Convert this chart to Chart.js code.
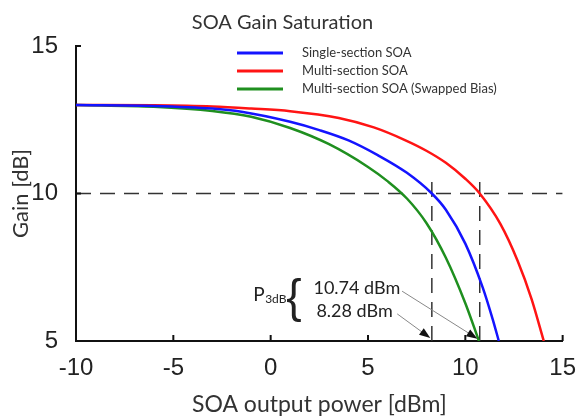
<!DOCTYPE html>
<html lang="en">
<head>
    <meta charset="UTF-8">
    <title>SOA Gain Saturation</title>
    <script src="https://cdn.jsdelivr.net/npm/chart.js@4.4.1/dist/chart.umd.min.js"></script>
    <style>
        body { margin: 0; background: #fff; }
        .box { width: 581px; height: 418px; position: relative; }
    </style>
</head>
<body>
    <div class="box"><canvas id="gainChart"></canvas></div>

    <script>
        // output power [dBm] and gain [dB]
        const powerSingle = [-10, -6, -3, -1.5, 1, 2.5, 4, 5.5, 7, 8.28, 9, 10, 10.9, 11.4, 11.72];
        const gainSingle = [13.0, 12.97, 12.88, 12.77, 12.43, 12.15, 11.8, 11.3, 10.7, 10.0, 9.45, 8.3, 6.8, 5.75, 5.0];

        const powerMulti = [-10, -6, -3, -1, 1, 3.5, 5.3, 6.87, 8, 9, 10, 10.74, 11.8, 12.68, 13.4, 14.03];
        const gainMulti = [13.0, 12.99, 12.95, 12.88, 12.79, 12.56, 12.24, 11.82, 11.45, 11.04, 10.5, 10.0, 8.97, 7.73, 6.43, 5.0];

        const powerSwapped = [-10, -6, -3, -1, 1, 3, 5, 6, 7, 8, 9, 10, 10.7];
        const gainSwapped = [13.0, 12.94, 12.8, 12.6, 12.22, 11.67, 10.9, 10.42, 9.83, 9.0, 7.82, 6.28, 5.0];

        const seriesNames = ["Single-section SOA", "Multi-section SOA", "Multi-section SOA (Swapped Bias)"];
        const seriesColors = ["#1414ff", "#ff1414", "#1f8f1f"];

        const xTicks = [-10, -5, 0, 5, 10, 15];
        const yTicks = [5, 10, 15];

        const refGain = 10;            // 3 dB below small-signal gain
        const p3dbPower = [8.28, 10.74];
        const p3dbTop = 10.65;         // where the vertical dashed lines stop

        function toPoints(xs, ys) {
            return xs.map((x, i) => ({ x: x, y: ys[i] }));
        }

        const curveStyle = { fill: false, pointRadius: 0, borderWidth: 2.5, cubicInterpolationMode: "monotone" };
        const dashStyle = { fill: false, pointRadius: 0, borderWidth: 1.5, borderColor: "#333", borderDash: [15, 9], tension: 0 };

        const datasets = [
            Object.assign({ label: seriesNames[0], data: toPoints(powerSingle, gainSingle), borderColor: seriesColors[0] }, curveStyle),
            Object.assign({ label: seriesNames[1], data: toPoints(powerMulti, gainMulti), borderColor: seriesColors[1] }, curveStyle),
            Object.assign({ label: seriesNames[2], data: toPoints(powerSwapped, gainSwapped), borderColor: seriesColors[2] }, curveStyle),
            Object.assign({ data: [{ x: xTicks[0], y: refGain }, { x: xTicks[xTicks.length - 1], y: refGain }] }, dashStyle)
        ];
        p3dbPower.forEach(p => {
            datasets.push(Object.assign({ data: [{ x: p, y: yTicks[0] }, { x: p, y: p3dbTop }] }, dashStyle));
        });

        // inward tick marks, legend and the P3dB note
        const extrasPlugin = {
            id: "extras",
            afterDatasetsDraw(chart) {
                const ctx = chart.ctx;
                const area = chart.chartArea;
                const xs = chart.scales.x, ys = chart.scales.y;
                ctx.save();

                // ticks
                ctx.strokeStyle = "#111";
                ctx.lineWidth = 2;
                xTicks.slice(1).forEach(v => {
                    const px = xs.getPixelForValue(v);
                    ctx.beginPath(); ctx.moveTo(px, area.bottom); ctx.lineTo(px, area.bottom - 6); ctx.stroke();
                });
                yTicks.slice(1).forEach(v => {
                    const py = ys.getPixelForValue(v);
                    ctx.beginPath(); ctx.moveTo(area.left, py); ctx.lineTo(area.left + 5, py); ctx.stroke();
                });

                // legend
                ctx.font = "13px Lato";
                ctx.textBaseline = "middle";
                ctx.textAlign = "left";
                seriesNames.forEach((name, i) => {
                    const y = area.top + 7 + i * 18;
                    const x0 = area.left + 161;
                    ctx.strokeStyle = seriesColors[i];
                    ctx.lineWidth = 3;
                    ctx.beginPath(); ctx.moveTo(x0, y); ctx.lineTo(x0 + 46, y); ctx.stroke();
                    ctx.fillStyle = "#333";
                    ctx.fillText(name, x0 + 65, y);
                });

                // P3dB annotation
                ctx.fillStyle = "#222";
                ctx.font = "19px Lato";
                ctx.fillText("P", xs.getPixelForValue(-0.9), ys.getPixelForValue(6.55));
                ctx.font = "12px Lato";
                ctx.fillText("3dB", xs.getPixelForValue(-0.9) + 12, ys.getPixelForValue(6.55) + 4);
                ctx.font = "46px 'Liberation Sans'";
                ctx.textAlign = "center";
                ctx.fillText("{", xs.getPixelForValue(1.2), ys.getPixelForValue(6.4));
                ctx.textAlign = "left";
                ctx.font = "18px Lato";
                ctx.fillText(p3dbPower[1].toFixed(2) + " dBm", xs.getPixelForValue(2.2), ys.getPixelForValue(6.8));
                ctx.fillText(p3dbPower[0].toFixed(2) + " dBm", xs.getPixelForValue(2.35), ys.getPixelForValue(6.02));

                const arrows = [
                    [6.75, 6.69, p3dbPower[1] - 0.12, 5.08],
                    [6.5, 5.92, p3dbPower[0] - 0.08, 5.1]
                ];
                arrows.forEach(a => {
                    const x1 = xs.getPixelForValue(a[0]), y1 = ys.getPixelForValue(a[1]);
                    const x2 = xs.getPixelForValue(a[2]), y2 = ys.getPixelForValue(a[3]);
                    const ang = Math.atan2(y2 - y1, x2 - x1);
                    ctx.strokeStyle = "#888";
                    ctx.lineWidth = 1;
                    ctx.beginPath(); ctx.moveTo(x1, y1); ctx.lineTo(x2 - 9 * Math.cos(ang), y2 - 9 * Math.sin(ang)); ctx.stroke();
                    ctx.fillStyle = "#111";
                    ctx.beginPath();
                    ctx.moveTo(x2, y2);
                    ctx.lineTo(x2 - 11 * Math.cos(ang) + 4 * Math.sin(ang), y2 - 11 * Math.sin(ang) - 4 * Math.cos(ang));
                    ctx.lineTo(x2 - 11 * Math.cos(ang) - 4 * Math.sin(ang), y2 - 11 * Math.sin(ang) + 4 * Math.cos(ang));
                    ctx.closePath();
                    ctx.fill();
                });
                ctx.restore();
            }
        };

        new Chart(document.getElementById("gainChart"), {
            type: "line",
            data: { datasets: datasets },
            options: {
                responsive: true,
                maintainAspectRatio: false,
                animation: false,
                layout: { padding: { left: 0, right: 16, top: 0, bottom: 0 } },
                plugins: {
                    legend: { display: false },
                    tooltip: { enabled: false },
                    title: {
                        display: true,
                        text: "SOA Gain Saturation",
                        color: "#333",
                        font: { family: "Lato", size: 20, weight: "normal" },
                        padding: { top: 11, bottom: 11 }
                    }
                },
                scales: {
                    x: {
                        type: "linear",
                        min: xTicks[0],
                        max: xTicks[xTicks.length - 1],
                        afterBuildTicks: s => { s.ticks = xTicks.map(v => ({ value: v })); },
                        afterFit: s => { s.height = 77; },
                        grid: { display: false },
                        border: { display: true, color: "#111", width: 2 },
                        ticks: { color: "#222", padding: 5, maxRotation: 0, font: { family: "Liberation Sans", size: 24 } },
                        title: {
                            display: true,
                            text: "SOA output power [dBm]",
                            color: "#333",
                            font: { family: "Lato", size: 23 },
                            padding: { top: 0, bottom: 0 }
                        }
                    },
                    y: {
                        type: "linear",
                        min: yTicks[0],
                        max: yTicks[yTicks.length - 1],
                        afterBuildTicks: s => { s.ticks = yTicks.map(v => ({ value: v })); },
                        afterFit: s => { s.width = 76; },
                        grid: { display: false },
                        border: { display: true, color: "#111", width: 2 },
                        ticks: { color: "#222", padding: 10, font: { family: "Liberation Sans", size: 24 } },
                        title: {
                            display: true,
                            text: "Gain [dB]",
                            color: "#333",
                            font: { family: "Lato", size: 22 },
                            padding: { top: 8, bottom: 0 }
                        }
                    }
                }
            },
            plugins: [extrasPlugin]
        });
    </script>
</body>
</html>
